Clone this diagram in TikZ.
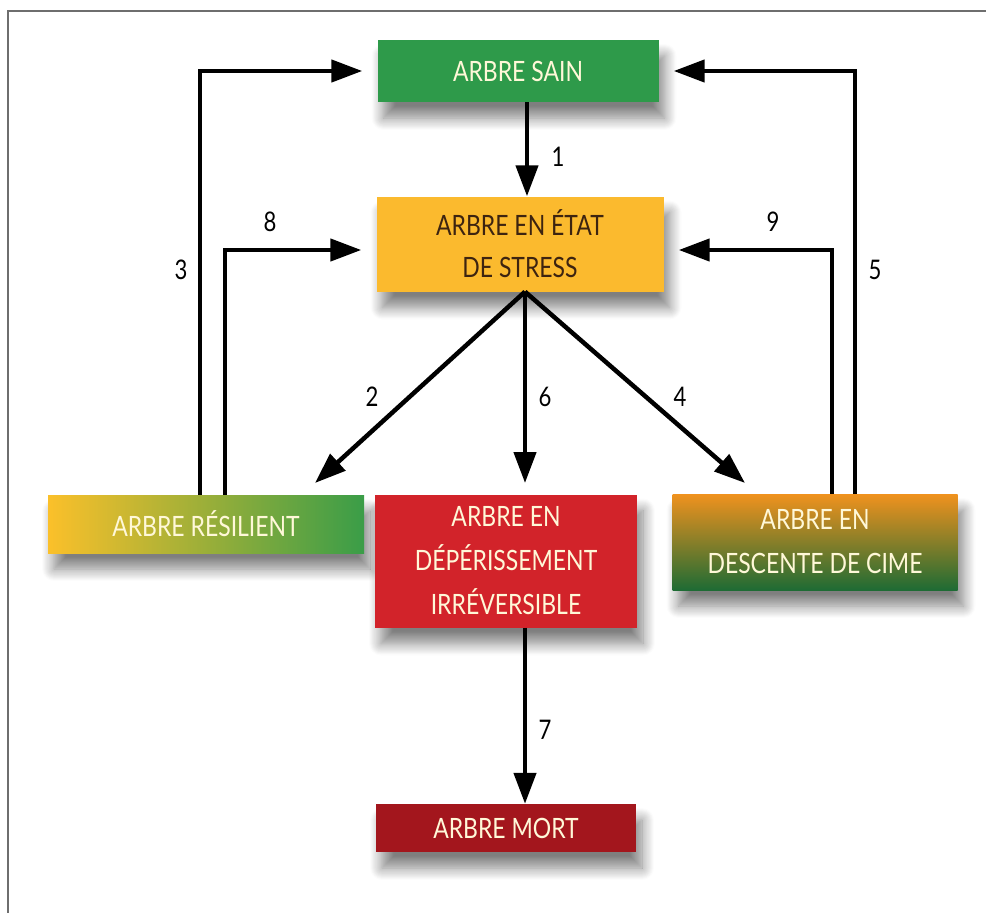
\documentclass[tikz,border=0pt]{standalone}
\usepackage{fontspec}
\setmainfont{Lato}[FakeStretch=0.82]
\usepackage{xcolor}
\usepackage{tikz}
\usetikzlibrary{arrows.meta,positioning,shadows.blur}
\definecolor{sainGreen}{HTML}{2E9A4A}
\definecolor{stressYellow}{HTML}{FBBA2E}
\definecolor{stressText}{HTML}{3D2410}
\definecolor{deperRed}{HTML}{D2232A}
\definecolor{mortRed}{HTML}{A3161D}
\definecolor{descTop}{HTML}{F0921E}
\definecolor{descBottom}{HTML}{1E6B34}
\definecolor{resilLeft}{HTML}{FBC02A}
\definecolor{resilRight}{HTML}{3A9D48}
\definecolor{boxText}{HTML}{FFF8D8}
\definecolor{frameGray}{HTML}{6E6E6E}

\begin{document}
\begin{tikzpicture}[x=1pt, y=-1pt, every node/.style={font=\fontsize{28}{42}\selectfont}, box/.style={align=center, inner sep=0pt, text=boxText, blur shadow={shadow xshift=6pt, shadow yshift=-16pt, shadow blur radius=12pt, shadow blur steps=12, shadow opacity=50}}, flow/.style={line width=4.5pt, -{Triangle[length=31pt,width=22pt]}}, num/.style={font=\fontsize{27}{27}\selectfont, inner sep=0pt}]
\useasboundingbox (0,0) rectangle (986,913);
\draw[frameGray, line width=1.6pt] (8,913) -- (8,11) -- (986,11);
\node[box, fill=sainGreen, minimum width=281pt, minimum height=62pt] (sain) at (518,71) {ARBRE SAIN};
\node[box, fill=stressYellow, text=stressText, minimum width=287pt, minimum height=95pt] (stress) at (520,244) {ARBRE EN ÉTAT\\DE STRESS};
\node[box, left color=resilLeft, right color=resilRight, minimum width=316pt, minimum height=58pt] (resil) at (206,524) {ARBRE RÉSILIENT};
\node[box, fill=deperRed, font=\fontsize{28}{44}\selectfont, minimum width=262pt, minimum height=133pt] (deper) at (506,561) {ARBRE EN\\DÉPÉRISSEMENT\\IRRÉVERSIBLE};
\node[box, top color=descTop, bottom color=descBottom, font=\fontsize{28}{44}\selectfont, minimum width=285pt, minimum height=96pt] (desc) at (815,542) {ARBRE EN\\DESCENTE DE CIME};
\node[box, fill=mortRed, minimum width=260pt, minimum height=48pt] (mort) at (506,828) {ARBRE MORT};
\coordinate (fork) at ([xshift=5pt]stress.south);
\coordinate (tip2) at (315,483);
\coordinate (tip6) at (525,483);
\coordinate (tip4) at (745,483);
\draw[flow] ([xshift=9pt]sain.south) -- ([xshift=7pt]stress.north);
\draw[flow, shorten >=15pt] ([xshift=-6pt]resil.north) |- (sain.west);
\draw[flow, shorten >=15pt] ([xshift=19pt]resil.north) |- ([yshift=-6pt]stress.west);
\draw[flow, shorten >=15pt] ([xshift=40pt]desc.north) |- (sain.east);
\draw[flow, shorten >=15pt] ([xshift=17pt]desc.north) |- ([yshift=-6pt]stress.east);
\draw[flow] (fork) -- (tip2);
\draw[flow] (fork) -- (tip6);
\draw[flow] (fork) -- (tip4);
\draw[flow] ([xshift=19pt]deper.south) -- ([xshift=19pt]mort.north);
\node[num] (n1) at (558,157) {1};
\node[num] (n2) at (372,397) {2};
\node[num] (n3) at (181,270) {3};
\node[num] (n4) at (680,397) {4};
\node[num] (n5) at (875,270) {5};
\node[num] (n6) at (545,397) {6};
\node[num] (n7) at (545,730) {7};
\node[num] (n8) at (270,222) {8};
\node[num] (n9) at (773,222) {9};
\end{tikzpicture}
\end{document}
